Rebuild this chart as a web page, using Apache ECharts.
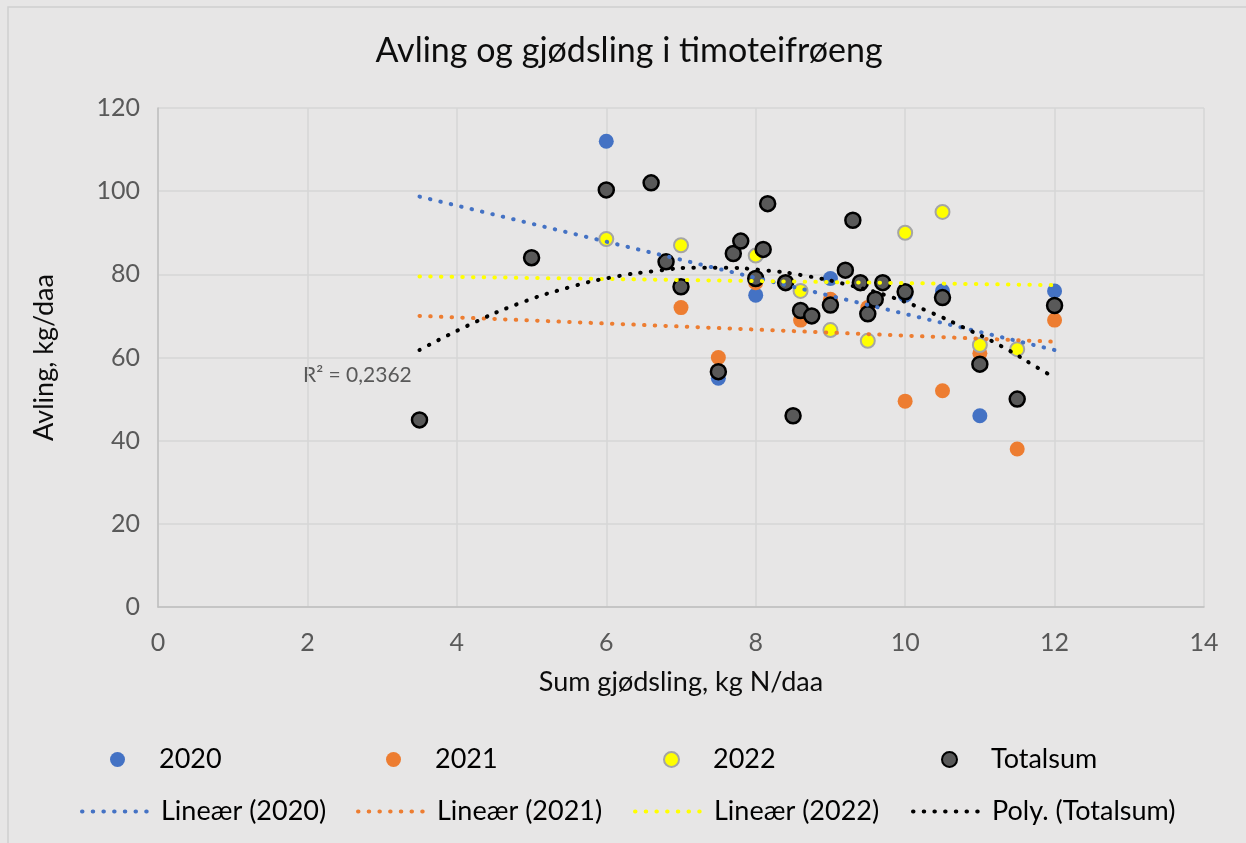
<!DOCTYPE html>
<html>
<head>
<meta charset="utf-8">
<title>Avling og gjødsling i timoteifrøeng</title>
<script src="https://cdn.jsdelivr.net/npm/echarts@6/dist/echarts.min.js"></script>
<style>
  html, body { margin: 0; padding: 0; background: #e7e6e6; }
  #chart { width: 1246px; height: 843px; }
</style>
</head>
<body>
<div id="chart"></div>
<script>
// scatter values
const x2020 = [6, 7.5, 8, 9, 10, 10.5, 11, 12];
const y2020 = [112, 55, 75, 79, 75, 76, 46, 76];

const x2021 = [7, 7.5, 8, 8.6, 9, 9.5, 10, 10.5, 11, 11.5, 12];
const y2021 = [72, 60, 78, 69, 74, 72, 49.5, 52, 61, 38, 69];

const x2022 = [6, 7, 8, 8.6, 9, 9.5, 10, 10.5, 11, 11.5];
const y2022 = [88.5, 87, 84.5, 76, 66.6, 64, 90, 95, 63, 62];

const xTotal = [3.5, 5, 6, 6.6, 6.8, 7, 7.5, 7.7, 7.8, 8, 8.1, 8.16, 8.4, 8.5, 8.6, 8.75, 9, 9.2, 9.3, 9.4, 9.5, 9.6, 9.7, 10, 10.5, 11, 11.5, 12];
const yTotal = [45, 84, 100.3, 102, 83, 77, 56.6, 85, 88, 79, 86, 97, 78, 46, 71.3, 70, 72.6, 81, 93, 78, 70.5, 74, 78, 75.8, 74.4, 58.4, 50, 72.5];

// trend lines
const trendX = [3.5, 12];
const trend2020 = [98.7, 61.8];
const trend2021 = [70, 63.8];
const trend2022 = [79.5, 77.4];
const polyX = [3.5, 4.15, 4.82, 5.51, 6.08, 6.66, 7.22, 7.52, 8.1, 8.68, 9.25, 9.82, 10.36, 10.76, 11.28, 11.9, 12];
const polyY = [61.8, 67.7, 72.9, 76.9, 79.3, 80.8, 81.6, 81.6, 81.0, 79.6, 77.4, 74.5, 70.7, 67.4, 62.8, 56.2, 55.4];

const r2Text = 'R² = 0,2362';

function pairs(xs, ys) {
  return xs.map((x, i) => [x, ys[i]]);
}

const font = 'Lato, "Open Sans", sans-serif';
const dotted = { width: 4, type: [0.5, 10.2], cap: 'round' };

// one legend per entry so the columns line up like the original
function legendItem(name, left, top, isLine) {
  const item = {
    data: [name],
    left: left,
    top: top,
    padding: 0,
    itemGap: 0,
    selectedMode: false,
    textStyle: { fontFamily: font, fontSize: 27, color: '#000' }
  };
  if (isLine) {
    item.itemWidth = 74;
    item.itemHeight = 15;
    item.lineStyle = { width: 4 };
    item.itemStyle = { color: 'rgba(0,0,0,0)', borderWidth: 0, borderColor: 'rgba(0,0,0,0)' };
  } else {
    item.itemWidth = 15;
    item.itemHeight = 15;
    item.textStyle.padding = [0, 0, 0, 29];
  }
  return item;
}

function trendLine(name, color, xs, ys, smooth) {
  return {
    name: name,
    type: 'line',
    data: pairs(xs, ys),
    symbol: 'none',
    smooth: smooth,
    z: 3,
    lineStyle: Object.assign({ color: color }, dotted),
    itemStyle: { color: color }
  };
}

const chart = echarts.init(document.getElementById('chart'));
chart.setOption({
  animation: false,
  backgroundColor: '#e7e6e6',
  graphic: [
    {
      type: 'rect',
      shape: { x: 8, y: 7, width: 1260, height: 860 },
      style: { fill: 'none', stroke: '#d0d0d0', lineWidth: 1.5 },
      silent: true
    },
    {
      type: 'text',
      x: 629, y: 51,
      style: { text: 'Avling og gjødsling i timoteifrøeng', align: 'center', verticalAlign: 'middle', font: '34px ' + font, fill: '#0d0d0d' }
    },
    {
      type: 'text',
      x: 303, y: 375,
      style: { text: r2Text, align: 'left', verticalAlign: 'middle', font: '21px ' + font, fill: '#595959' }
    }
  ],
  grid: { left: 158, right: 42, top: 108, bottom: 236 },
  xAxis: {
    type: 'value',
    min: 0, max: 14, interval: 2,
    name: 'Sum gjødsling, kg N/daa',
    nameLocation: 'middle',
    nameGap: 62,
    nameTextStyle: { fontFamily: font, fontSize: 27, color: '#0d0d0d' },
    axisLine: { lineStyle: { color: '#bfbfbf', width: 1.5 } },
    axisTick: { show: false },
    axisLabel: { fontFamily: font, fontSize: 25, color: '#595959', margin: 23 },
    splitLine: { lineStyle: { color: '#d6d6d6', width: 1.5 } }
  },
  yAxis: {
    type: 'value',
    min: 0, max: 120, interval: 20,
    name: 'Avling, kg/daa',
    nameLocation: 'middle',
    nameGap: 100,
    nameTextStyle: { fontFamily: font, fontSize: 27, color: '#0d0d0d' },
    axisLine: { show: true, lineStyle: { color: '#bfbfbf', width: 1.5 } },
    axisTick: { show: false },
    axisLabel: { fontFamily: font, fontSize: 25, color: '#595959', margin: 18 },
    splitLine: { lineStyle: { color: '#d6d6d6', width: 1.5 } }
  },
  legend: [
    legendItem('2020', 110, 746),
    legendItem('2021', 386, 746),
    legendItem('2022', 663, 746),
    legendItem('Totalsum', 941, 746),
    legendItem('Lineær (2020)', 80, 798, true),
    legendItem('Lineær (2021)', 356, 798, true),
    legendItem('Lineær (2022)', 633, 798, true),
    legendItem('Poly. (Totalsum)', 911, 798, true)
  ],
  series: [
    {
      name: '2020', type: 'scatter', z: 2,
      data: pairs(x2020, y2020),
      symbolSize: 15,
      itemStyle: { color: '#4472c4', opacity: 1 }
    },
    {
      name: '2021', type: 'scatter', z: 2,
      data: pairs(x2021, y2021),
      symbolSize: 15,
      itemStyle: { color: '#ed7d31', opacity: 1 }
    },
    {
      name: '2022', type: 'scatter', z: 2,
      data: pairs(x2022, y2022),
      symbolSize: 14,
      itemStyle: { color: '#ffff00', borderColor: '#a5a5a5', borderWidth: 2, opacity: 1 }
    },
    {
      name: 'Totalsum', type: 'scatter', z: 2,
      data: pairs(xTotal, yTotal),
      symbolSize: 15,
      itemStyle: { color: '#595959', borderColor: '#000', borderWidth: 2.5, opacity: 1 }
    },
    trendLine('Lineær (2020)', '#4472c4', trendX, trend2020, false),
    trendLine('Lineær (2021)', '#ed7d31', trendX, trend2021, false),
    trendLine('Lineær (2022)', '#ffff00', trendX, trend2022, false),
    trendLine('Poly. (Totalsum)', '#000000', polyX, polyY, true)
  ]
});
</script>
</body>
</html>
